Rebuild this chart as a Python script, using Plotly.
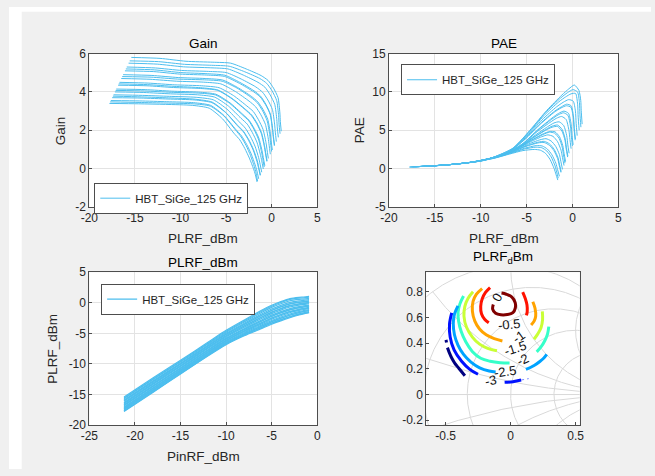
import numpy as np
import plotly.graph_objects as go

SERIES_NAME = 'HBT_SiGe_125 GHz'

# input power sweep (dBm), shared by all load states
PIN_DBM = [-21.2, -18, -15, -12, -10, -8, -6, -5, -4, -3, -2, -1.5, -0.9]

# delivered output power per load state (dBm)
PLRF_DBM = [
    [-17.80, -14.62, -11.65, -8.70, -6.85, -5.40, -4.15, -3.50, -2.95, -2.45, -2.00, -1.80, -1.60],
    [-17.72, -14.55, -11.58, -8.62, -6.74, -5.25, -3.98, -3.35, -2.80, -2.32, -1.90, -1.72, -1.55],
    [-17.65, -14.47, -11.51, -8.56, -6.70, -5.23, -3.95, -3.30, -2.74, -2.24, -1.81, -1.62, -1.43],
    [-17.50, -14.32, -11.37, -8.42, -6.56, -5.07, -3.76, -3.09, -2.53, -2.03, -1.62, -1.45, -1.26],
    [-17.42, -14.26, -11.31, -8.38, -6.53, -5.06, -3.74, -3.07, -2.50, -2.00, -1.58, -1.42, -1.23],
    [-17.35, -14.18, -11.23, -8.28, -6.41, -4.90, -3.56, -2.89, -2.33, -1.83, -1.43, -1.27, -1.09],
    [-17.20, -14.03, -11.10, -8.15, -6.27, -4.74, -3.37, -2.68, -2.12, -1.62, -1.25, -1.09, -0.92],
    [-17.12, -13.95, -11.02, -8.06, -6.16, -4.60, -3.20, -2.51, -1.95, -1.46, -1.12, -0.98, -0.82],
    [-17.05, -13.88, -10.96, -8.01, -6.12, -4.57, -3.17, -2.48, -1.91, -1.41, -1.06, -0.92, -0.75],
    [-16.85, -13.68, -10.77, -7.82, -5.92, -4.36, -2.92, -2.23, -1.65, -1.15, -0.82, -0.69, -0.53],
    [-16.78, -13.62, -10.71, -7.78, -5.90, -4.34, -2.90, -2.20, -1.62, -1.12, -0.79, -0.66, -0.50],
    [-16.70, -13.54, -10.63, -7.68, -5.78, -4.19, -2.73, -2.02, -1.45, -0.95, -0.63, -0.51, -0.37],
    [-16.50, -13.34, -10.44, -7.49, -5.58, -3.98, -2.48, -1.77, -1.19, -0.69, -0.39, -0.28, -0.15],
    [-16.40, -13.23, -10.33, -7.37, -5.44, -3.80, -2.28, -1.57, -0.99, -0.50, -0.22, -0.13, -0.01],
    [-16.30, -13.14, -10.25, -7.30, -5.38, -3.76, -2.23, -1.52, -0.93, -0.43, -0.15, -0.06, 0.07],
    [-16.10, -12.94, -10.07, -7.12, -5.19, -3.55, -1.99, -1.26, -0.67, -0.17, 0.08, 0.17, 0.29],
    [-16.00, -12.85, -9.99, -7.05, -5.13, -3.50, -1.94, -1.22, -0.64, -0.15, 0.10, 0.19, 0.32],
    [-15.90, -12.75, -9.88, -6.93, -4.99, -3.33, -1.74, -1.01, -0.42, 0.08, 0.32, 0.40, 0.51],
    [-15.70, -12.55, -9.69, -6.74, -4.80, -3.12, -1.50, -0.75, -0.16, 0.34, 0.56, 0.62, 0.73],
    [-15.58, -12.42, -9.56, -6.61, -4.66, -2.95, -1.30, -0.55, 0.05, 0.55, 0.76, 0.81, 0.92],
    [-15.40, -12.25, -9.40, -6.45, -4.50, -2.80, -1.15, -0.40, 0.20, 0.70, 0.90, 0.95, 1.05],
]

# gain per load state (dB)
GAIN_DB = [
    [3.40, 3.38, 3.35, 3.30, 3.15, 2.60, 1.85, 1.50, 1.05, 0.55, 0.00, -0.30, -0.70],
    [3.48, 3.45, 3.42, 3.38, 3.26, 2.75, 2.02, 1.65, 1.20, 0.68, 0.10, -0.22, -0.65],
    [3.55, 3.53, 3.49, 3.44, 3.30, 2.77, 2.05, 1.70, 1.26, 0.76, 0.19, -0.12, -0.53],
    [3.70, 3.68, 3.63, 3.58, 3.44, 2.93, 2.24, 1.91, 1.47, 0.97, 0.38, 0.05, -0.36],
    [3.78, 3.74, 3.69, 3.62, 3.47, 2.94, 2.26, 1.93, 1.50, 1.00, 0.42, 0.08, -0.33],
    [3.85, 3.82, 3.77, 3.72, 3.59, 3.10, 2.44, 2.11, 1.67, 1.17, 0.57, 0.23, -0.19],
    [4.00, 3.97, 3.90, 3.85, 3.73, 3.26, 2.63, 2.32, 1.88, 1.38, 0.75, 0.41, -0.02],
    [4.08, 4.05, 3.98, 3.94, 3.84, 3.40, 2.80, 2.49, 2.05, 1.54, 0.88, 0.52, 0.08],
    [4.15, 4.12, 4.04, 3.99, 3.88, 3.43, 2.83, 2.52, 2.09, 1.59, 0.94, 0.58, 0.15],
    [4.35, 4.32, 4.23, 4.18, 4.08, 3.64, 3.08, 2.77, 2.35, 1.85, 1.18, 0.81, 0.37],
    [4.42, 4.38, 4.29, 4.22, 4.10, 3.66, 3.10, 2.80, 2.38, 1.88, 1.21, 0.84, 0.40],
    [4.50, 4.46, 4.37, 4.32, 4.22, 3.81, 3.27, 2.98, 2.55, 2.05, 1.37, 0.99, 0.53],
    [4.70, 4.66, 4.56, 4.51, 4.42, 4.02, 3.52, 3.23, 2.81, 2.31, 1.61, 1.22, 0.75],
    [4.80, 4.77, 4.67, 4.63, 4.56, 4.20, 3.72, 3.43, 3.01, 2.50, 1.78, 1.37, 0.89],
    [4.90, 4.86, 4.75, 4.70, 4.62, 4.24, 3.77, 3.48, 3.07, 2.57, 1.85, 1.44, 0.97],
    [5.10, 5.06, 4.93, 4.88, 4.81, 4.45, 4.01, 3.74, 3.33, 2.83, 2.08, 1.67, 1.19],
    [5.20, 5.15, 5.01, 4.95, 4.87, 4.50, 4.06, 3.78, 3.36, 2.85, 2.10, 1.69, 1.22],
    [5.30, 5.25, 5.12, 5.07, 5.01, 4.67, 4.26, 3.99, 3.58, 3.08, 2.32, 1.90, 1.41],
    [5.50, 5.45, 5.31, 5.26, 5.20, 4.88, 4.50, 4.25, 3.84, 3.34, 2.56, 2.12, 1.63],
    [5.62, 5.58, 5.44, 5.39, 5.34, 5.05, 4.70, 4.45, 4.05, 3.55, 2.76, 2.31, 1.82],
    [5.80, 5.75, 5.60, 5.55, 5.50, 5.20, 4.85, 4.60, 4.20, 3.70, 2.90, 2.45, 1.95],
]

# power added efficiency per load state (%)
PAE_PCT = [
    [0.20, 0.40, 0.72, 1.30, 1.90, 2.35, 2.50, 2.40, 2.00, 1.20, 0.00, -0.75, -1.50],
    [0.21, 0.40, 0.74, 1.35, 2.00, 2.55, 2.80, 2.72, 2.30, 1.52, 0.35, -0.45, -1.25],
    [0.21, 0.41, 0.75, 1.38, 2.05, 2.65, 3.00, 2.95, 2.55, 1.80, 0.70, -0.15, -1.00],
    [0.22, 0.43, 0.77, 1.44, 2.18, 2.90, 3.35, 3.40, 3.05, 2.35, 1.30, 0.45, -0.50],
    [0.22, 0.43, 0.78, 1.45, 2.20, 2.95, 3.45, 3.55, 3.22, 2.52, 1.45, 0.60, -0.40],
    [0.23, 0.44, 0.80, 1.50, 2.30, 3.15, 3.75, 3.90, 3.60, 2.90, 1.85, 0.95, -0.10],
    [0.24, 0.46, 0.82, 1.56, 2.42, 3.40, 4.15, 4.40, 4.20, 3.50, 2.40, 1.45, 0.40],
    [0.25, 0.47, 0.84, 1.60, 2.52, 3.60, 4.45, 4.75, 4.62, 3.95, 2.80, 1.80, 0.70],
    [0.25, 0.47, 0.85, 1.62, 2.55, 3.65, 4.55, 4.85, 4.80, 4.15, 3.00, 2.00, 0.90],
    [0.26, 0.49, 0.88, 1.70, 2.70, 3.95, 5.00, 5.40, 5.50, 4.90, 3.70, 2.60, 1.50],
    [0.26, 0.49, 0.88, 1.70, 2.72, 4.00, 5.10, 5.55, 5.68, 5.10, 3.85, 2.72, 1.62],
    [0.27, 0.50, 0.90, 1.76, 2.85, 4.25, 5.45, 5.95, 6.10, 5.60, 4.30, 3.10, 2.00],
    [0.28, 0.52, 0.93, 1.84, 3.05, 4.70, 6.00, 6.55, 6.80, 6.40, 5.00, 3.80, 2.60],
    [0.29, 0.53, 0.96, 1.92, 3.22, 5.00, 6.42, 7.00, 7.28, 6.95, 5.55, 4.28, 2.95],
    [0.29, 0.54, 0.97, 1.95, 3.30, 5.10, 6.60, 7.20, 7.50, 7.20, 5.80, 4.50, 3.10],
    [0.30, 0.56, 1.00, 2.05, 3.80, 5.75, 7.35, 7.90, 8.20, 8.00, 6.70, 5.20, 3.70],
    [0.30, 0.57, 1.01, 2.07, 3.90, 5.90, 7.50, 8.05, 8.40, 8.20, 6.90, 5.40, 3.85],
    [0.31, 0.58, 1.04, 2.20, 4.20, 6.35, 8.05, 8.65, 9.00, 8.80, 7.50, 5.90, 4.30],
    [0.32, 0.60, 1.08, 2.40, 4.60, 6.90, 8.70, 9.35, 9.75, 9.80, 8.40, 6.70, 5.00],
    [0.33, 0.62, 1.10, 2.55, 4.90, 7.30, 9.20, 9.90, 10.30, 10.00, 8.60, 7.10, 5.40],
    [0.34, 0.63, 1.13, 2.70, 5.20, 7.60, 9.60, 10.40, 10.90, 10.20, 8.90, 7.60, 5.80],
]

# tick values
GAIN_XTICKS = [-20, -15, -10, -5, 0, 5]
GAIN_YTICKS = [-2, 0, 2, 4, 6]
PAE_XTICKS = [-20, -15, -10, -5, 0, 5]
PAE_YTICKS = [-5, 0, 5, 10, 15]
PIN_XTICKS = [-25, -20, -15, -10, -5, 0]
PLRF_YTICKS = [-20, -15, -10, -5, 0, 5]
SMITH_XTICKS = [-0.5, 0, 0.5]
SMITH_YTICKS = [-0.2, 0, 0.2, 0.4, 0.6, 0.8]

# Smith chart grid values (normalised resistance / reactance)
SMITH_R = [0.2, 0.5, 1, 2, 5]
SMITH_X = [0.2, 0.5, 1, 2, 5]

# PLRF_dBm contours over the reflection-coefficient plane
CONTOUR_LEVELS = [0, -0.5, -1, -1.5, -2, -2.5, -3, -3.5]
CONTOUR_COLORS = ['#800000', '#ff1200', '#ffa300', '#c9ff36',
                  '#36ffc9', '#00a3ff', '#0012ff', '#000080']
SEG_L0 = [
    ([-0.070, -0.033, 0.010, 0.035, 0.036, 0.018, -0.025, -0.075, -0.115, -0.138, -0.133],
     [0.789, 0.780, 0.758, 0.715, 0.672, 0.637, 0.622, 0.620, 0.632, 0.665, 0.700]),
]
SEG_L05 = [
    ([-0.158, -0.193, -0.219, -0.230, -0.224, -0.200, -0.168],
     [0.832, 0.794, 0.744, 0.686, 0.628, 0.585, 0.558]),
    ([0.093, 0.113, 0.126, 0.128, 0.122],
     [0.797, 0.747, 0.696, 0.646, 0.615]),
]
SEG_L1 = [
    ([-0.219, -0.264, -0.289, -0.294, -0.276, -0.239, -0.188, -0.126, -0.063],
     [0.824, 0.779, 0.724, 0.648, 0.573, 0.510, 0.465, 0.435, 0.417]),
    ([0.171, 0.188, 0.193, 0.181, 0.158],
     [0.722, 0.671, 0.609, 0.571, 0.541]),
]
SEG_L15 = [
    ([-0.289, -0.327, -0.352, -0.359, -0.339, -0.294, -0.239, -0.176, -0.105],
     [0.799, 0.749, 0.686, 0.611, 0.523, 0.447, 0.392, 0.359, 0.340]),
    ([0.244, 0.246, 0.234, 0.208, 0.180],
     [0.646, 0.583, 0.520, 0.470, 0.430]),
]
SEG_L2 = [
    ([-0.362, -0.390, -0.404, -0.400, -0.380, -0.345, -0.295, -0.230, -0.158, -0.080, -0.008],
     [0.766, 0.705, 0.640, 0.570, 0.490, 0.410, 0.335, 0.282, 0.259, 0.248, 0.246]),
    ([0.294, 0.284, 0.264, 0.234, 0.201],
     [0.528, 0.470, 0.420, 0.370, 0.332]),
]
SEG_L25 = [
    ([-0.405, -0.432, -0.441, -0.432, -0.405, -0.362, -0.305, -0.238, -0.165, -0.115],
     [0.690, 0.625, 0.550, 0.465, 0.385, 0.312, 0.252, 0.208, 0.183, 0.176]),
    ([0.118, 0.181, 0.225, 0.256, 0.278],
     [0.196, 0.226, 0.257, 0.284, 0.312]),
]
SEG_L3 = [
    ([-0.453, -0.470, -0.465, -0.435, -0.377, -0.314, -0.251],
     [0.636, 0.548, 0.448, 0.347, 0.259, 0.196, 0.158]),
    ([-0.046, 0.018, 0.081],
     [0.095, 0.100, 0.113]),
]
SEG_L35 = [
    ([-0.497, -0.493], [0.425, 0.405]),
    ([-0.486, -0.470, -0.453, -0.430, -0.402, -0.375, -0.352],
     [0.365, 0.322, 0.284, 0.245, 0.209, 0.175, 0.146]),
]
CONTOUR_SEGMENTS = [SEG_L0, SEG_L05, SEG_L1, SEG_L15, SEG_L2, SEG_L25, SEG_L3, SEG_L35]
FAINT_TAIL_X = [0.081, 0.140]
FAINT_TAIL_Y = [0.113, 0.124]

LABEL_TEXT = ['0', '-0.5', '-1', '-1.5', '-2', '-2.5', '-3']
LABEL_X = [-0.103, -0.016, 0.066, 0.030, 0.097, -0.040, -0.148]
LABEL_Y = [0.752, 0.545, 0.450, 0.360, 0.272, 0.183, 0.108]
LABEL_ANGLE = [-60, -5, -35, -18, -25, -8, -12]

# ------------------------------------------------------------------
# The page margin is removed after plotting (see post_script), so the
# figure fills the whole 655x476 window.
OFF = 0
W, H = 655, 476
FONT = 'Liberation Sans, Arial, sans-serif'
TXT = '#262626'
LINE_BLUE = '#4DBEEE'


def fx(p):
    return (p - OFF) / W


def fy(p):
    return 1 - (p - OFF) / H


def tick_text(vals):
    return ['%g' % v for v in vals]


# axis boxes in screen pixels: left, top, right, bottom
BOX = {
    '': (82, 48, 314.5, 206),
    '2': (387.7, 48, 621.7, 206),
    '3': (82, 273.3, 314.5, 430.7),
    '4': (425.7, 273.3, 582.3, 430.7),
}

fig = go.Figure()

for k in range(len(GAIN_DB)):
    fig.add_trace(go.Scatter(
        x=PLRF_DBM[k], y=GAIN_DB[k], xaxis='x', yaxis='y', mode='lines',
        line=dict(color=LINE_BLUE, width=1, shape='spline', smoothing=0.6),
        name=SERIES_NAME, showlegend=(k == 0), legend='legend', hoverinfo='skip'))
for k in range(len(PAE_PCT)):
    fig.add_trace(go.Scatter(
        x=PLRF_DBM[k], y=PAE_PCT[k], xaxis='x2', yaxis='y2', mode='lines',
        line=dict(color=LINE_BLUE, width=1, shape='spline', smoothing=0.6),
        name=SERIES_NAME, showlegend=(k == 0), legend='legend2', hoverinfo='skip'))
for k in range(len(PLRF_DBM)):
    fig.add_trace(go.Scatter(
        x=PIN_DBM, y=PLRF_DBM[k], xaxis='x3', yaxis='y3', mode='lines',
        line=dict(color=LINE_BLUE, width=1.2, shape='spline', smoothing=0.6),
        name=SERIES_NAME, showlegend=(k == 0), legend='legend3', hoverinfo='skip'))

# Smith chart grid
gx, gy = [], []
th = np.linspace(-np.pi / 2 + 1e-4, np.pi / 2 - 1e-4, 1500)
for r in [0] + SMITH_R:
    g = (r + 1j * np.tan(th) - 1) / (r + 1j * np.tan(th) + 1)
    gx += list(g.real) + [None]
    gy += list(g.imag) + [None]
th2 = np.linspace(0, np.pi / 2 - 1e-4, 1500)
for xv in SMITH_X:
    for sg in (1, -1):
        z = np.tan(th2) + 1j * sg * xv
        g = (z - 1) / (z + 1)
        gx += list(g.real) + [None]
        gy += list(g.imag) + [None]
gx += [-1, 1, None]
gy += [0, 0, None]
fig.add_trace(go.Scatter(x=gx, y=gy, xaxis='x4', yaxis='y4', mode='lines',
                         line=dict(color='#d9d9d9', width=1), showlegend=False,
                         hoverinfo='skip'))

for lvl, col, segs in zip(CONTOUR_LEVELS, CONTOUR_COLORS, CONTOUR_SEGMENTS):
    for sx, sy in segs:
        fig.add_trace(go.Scatter(x=sx, y=sy, xaxis='x4', yaxis='y4', mode='lines',
                                 line=dict(color=col, width=3, shape='spline'),
                                 showlegend=False, hoverinfo='skip', name=str(lvl)))
fig.add_trace(go.Scatter(x=FAINT_TAIL_X, y=FAINT_TAIL_Y, xaxis='x4', yaxis='y4',
                         mode='lines', line=dict(color='#8090ff', width=1, dash='dot'),
                         showlegend=False, hoverinfo='skip'))

axis_common = dict(showline=True, mirror=True, linecolor='#4d4d4d', linewidth=1,
                   ticks='inside', ticklen=3, tickcolor='#4d4d4d', tickwidth=1,
                   zeroline=False, gridcolor='#e3e3e3', gridwidth=1,
                   tickfont=dict(family=FONT, size=12, color=TXT), fixedrange=True)

specs = {
    '': (GAIN_XTICKS, [-20, 5], GAIN_YTICKS, [-2, 6], True),
    '2': (PAE_XTICKS, [-20, 5], PAE_YTICKS, [-5, 15], True),
    '3': (PIN_XTICKS, [-25, 0], PLRF_YTICKS, [-20, 5], True),
    '4': (SMITH_XTICKS, [-0.649, 0.532], SMITH_YTICKS, [-0.237, 0.951], False),
}
lay = {}
for s, (xt, xr, yt, yr, grid) in specs.items():
    l, t, r, b = BOX[s]
    lay['xaxis' + s] = dict(axis_common, domain=[fx(l), fx(r)], range=xr,
                            tickvals=xt, ticktext=tick_text(xt), showgrid=grid,
                            anchor='y' + s)
    lay['yaxis' + s] = dict(axis_common, domain=[fy(b), fy(t)], range=yr,
                            tickvals=yt, ticktext=tick_text(yt), showgrid=grid,
                            anchor='x' + s)

legend_common = dict(xanchor='left', yanchor='top', bgcolor='white',
                     bordercolor='#4d4d4d', borderwidth=1,
                     font=dict(family=FONT, size=11.5, color=TXT),
                     itemwidth=30, tracegroupgap=0)
lay['legend'] = dict(legend_common, x=fx(87), y=fy(181))
lay['legend2'] = dict(legend_common, x=fx(400), y=fy(59))
lay['legend3'] = dict(legend_common, x=fx(94), y=fy(285))

ann = []


def add_text(text, x, y, angle=0, size=13.5, color='#000000'):
    ann.append(dict(text=text, x=fx(x), y=fy(y), xref='paper', yref='paper',
                    showarrow=False, textangle=angle, xanchor='center', yanchor='middle',
                    font=dict(family=FONT, size=size, color=color)))


add_text('Gain', 198.2, 38)
add_text('PAE', 504.7, 38)
add_text('PLRF_dBm', 198.2, 263)
add_text('PLRF<sub>d</sub>Bm', 504, 258)
add_text('PLRF_dBm', 198.2, 239, color=TXT)
add_text('PLRF_dBm', 504.7, 239, color=TXT)
add_text('PinRF_dBm', 198.2, 463, color=TXT)
add_text('Gain', 52, 127, angle=-90, color=TXT)
add_text('PAE', 357, 127, angle=-90, color=TXT)
add_text('PLRF_dBm', 45, 352, angle=-90, color=TXT)

for t, x, y, a in zip(LABEL_TEXT, LABEL_X, LABEL_Y, LABEL_ANGLE):
    ann.append(dict(text=t, x=x, y=y, xref='x4', yref='y4', showarrow=False,
                    textangle=a, font=dict(family=FONT, size=13, color='#111111')))

# white strips along the left and top edges of the window
shapes = [
    dict(type='rect', xref='paper', yref='paper', x0=0, x1=fx(13), y0=0, y1=1,
         fillcolor='white', line=dict(width=0), layer='below'),
    dict(type='rect', xref='paper', yref='paper', x0=0, x1=1, y0=fy(5), y1=1,
         fillcolor='white', line=dict(width=0), layer='below'),
]

fig.update_layout(width=W, height=H, margin=dict(l=0, r=0, t=0, b=0, pad=0),
                  autosize=False, paper_bgcolor='#f0f0f0', plot_bgcolor='white',
                  annotations=ann, shapes=shapes, **lay)

fig.write_html("out.html", config={'displayModeBar': False, 'staticPlot': True},
               post_script="document.documentElement.style.overflow='hidden';"
                           "document.body.style.overflow='hidden';"
                           "document.body.style.margin='0px';"
                           "window.scrollTo(0,0);")
